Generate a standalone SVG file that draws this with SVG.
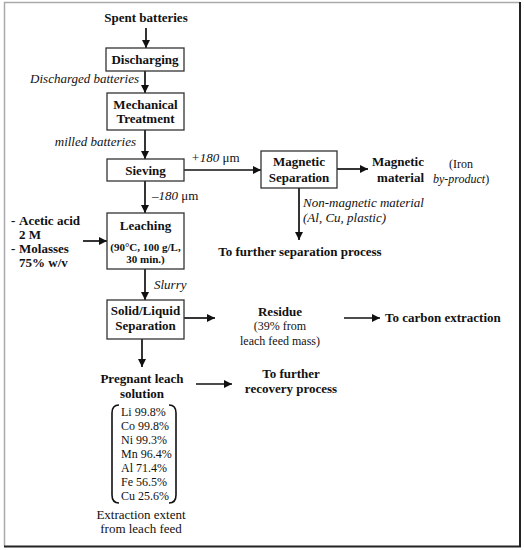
<svg xmlns="http://www.w3.org/2000/svg" width="524" height="550" viewBox="0 0 524 550" font-family="'Liberation Serif', 'Times New Roman', 'DejaVu Serif', serif">
<defs>
<marker id="ah" markerUnits="userSpaceOnUse" markerWidth="10" markerHeight="8" refX="8" refY="4" orient="auto">
<path d="M0,0 L8,4 L0,8 Z" fill="#111"/>
</marker>
<style>
text{fill:#111}
.b{font-weight:bold;font-size:13px}
.i{font-style:italic;font-size:13px}
.n{font-size:12px}
.s{font-weight:bold;font-size:11px}
.m{text-anchor:middle}
.box{fill:#fff;stroke:#333;stroke-width:1.3}
.c{stroke:#111;stroke-width:1.7;fill:none;marker-end:url(#ah)}
.br{stroke:#111;stroke-width:1.6;fill:none}
</style>
</defs>
<rect width="524" height="550" fill="#fff"/>
<path d="M4.5,546 L4.5,2.5 L520,2.5" stroke="#aaa" stroke-width="1.5" fill="none"/>
<path d="M520,2 L520,546.5 L4,546.5" stroke="#222" stroke-width="2" fill="none"/>

<g id="connectors">
<line class="c" x1="146" y1="28" x2="146" y2="48"/>
<line class="c" x1="145" y1="71" x2="145" y2="93"/>
<line class="c" x1="145" y1="130" x2="145" y2="159"/>
<line class="c" x1="184" y1="170" x2="261" y2="170"/>
<line class="c" x1="145" y1="181" x2="145" y2="213"/>
<line class="c" x1="83" y1="241" x2="107" y2="241"/>
<line class="c" x1="299" y1="188" x2="299" y2="240"/>
<line class="c" x1="337" y1="169" x2="368" y2="169"/>
<line class="c" x1="145" y1="269" x2="145" y2="300"/>
<line class="c" x1="184" y1="318" x2="215" y2="318"/>
<line class="c" x1="344" y1="318" x2="380" y2="318"/>
<line class="c" x1="142" y1="339" x2="142" y2="367"/>
<line class="c" x1="196" y1="384" x2="232" y2="384"/>
</g>

<g id="labels">
<text class="i" x="139" y="83" text-anchor="end">Discharged batteries</text>
<text class="i" x="136" y="146" text-anchor="end">milled batteries</text>
<text x="191" y="162" font-size="13"><tspan font-style="italic">+180</tspan> μm</text>
<text x="152" y="200" font-size="13"><tspan font-style="italic">–180</tspan> μm</text>
<text class="i" x="303" y="207">Non-magnetic material</text>
<text class="i" x="303" y="222">(Al, Cu, plastic)</text>
<text class="i" x="154" y="289">Slurry</text>
</g>

<g id="spent"><text class="b m" x="146" y="22">Spent batteries</text></g>

<g id="discharging">
<rect class="box" x="106" y="48" width="78" height="23"/>
<text class="b m" x="145" y="64">Discharging</text>
</g>

<g id="mechanical">
<rect class="box" x="107" y="93" width="77" height="37"/>
<text class="b m" x="145.5" y="109">Mechanical</text>
<text class="b m" x="145.5" y="123">Treatment</text>
</g>

<g id="sieving">
<rect class="box" x="107" y="159" width="77" height="22"/>
<text class="b m" x="145.5" y="175">Sieving</text>
</g>

<g id="reagents">
<text class="b" x="11" y="225">-</text><text class="b" x="19" y="225">Acetic acid</text>
<text class="b" x="19" y="239">2 M</text>
<text class="b" x="11" y="253">-</text><text class="b" x="19" y="253">Molasses</text>
<text class="b" x="19" y="267">75% w/v</text>
</g>

<g id="leaching">
<rect class="box" x="107" y="213" width="77" height="56"/>
<text class="b m" x="145.5" y="230">Leaching</text>
<text class="s m" x="145.5" y="251">(90°C, 100 g/L,</text>
<text class="s m" x="145.5" y="263">30 min.)</text>
</g>

<g id="magsep">
<rect class="box" x="261" y="151" width="76" height="37"/>
<text class="b m" x="299" y="166">Magnetic</text>
<text class="b m" x="299" y="182">Separation</text>
</g>

<g id="magmat">
<text class="b" x="424" y="166" text-anchor="end">Magnetic</text>
<text class="b" x="424" y="182" text-anchor="end">material</text>
<text class="n" x="449" y="168">(Iron</text>
<text class="n" x="433" y="183"><tspan font-style="italic">by-product</tspan>)</text>
</g>

<g id="furthersep"><text class="b m" x="300" y="256">To further separation process</text></g>

<g id="solidliquid">
<rect class="box" x="107" y="300" width="77" height="39"/>
<text class="b m" x="145.5" y="315">Solid/Liquid</text>
<text class="b m" x="145.5" y="330">Separation</text>
</g>

<g id="residue">
<text class="b m" x="280" y="316">Residue</text>
<text class="n m" x="280" y="330">(39% from</text>
<text class="n m" x="280" y="345">leach feed mass)</text>
</g>

<g id="carbon"><text class="b" x="385" y="322">To carbon extraction</text></g>

<g id="pls">
<text class="b m" x="142" y="383">Pregnant leach</text>
<text class="b m" x="142" y="398">solution</text>
</g>

<g id="recovery">
<text class="b m" x="291" y="378">To further</text>
<text class="b m" x="291" y="393">recovery process</text>
</g>

<g id="extraction">
<path class="br" d="M119,405 Q112,405 112,413 L112,495 Q112,503 119,503"/>
<path class="br" d="M169,405 Q176,405 176,413 L176,495 Q176,503 169,503"/>
<text class="n" x="121" y="416">Li 99.8%</text>
<text class="n" x="121" y="430">Co 99.8%</text>
<text class="n" x="121" y="444">Ni 99.3%</text>
<text class="n" x="121" y="458">Mn 96.4%</text>
<text class="n" x="121" y="472">Al 71.4%</text>
<text class="n" x="121" y="486">Fe 56.5%</text>
<text class="n" x="121" y="500">Cu 25.6%</text>
<text class="m" font-size="13" x="141" y="519">Extraction extent</text>
<text class="m" font-size="13" x="141" y="533">from leach feed</text>
</g>
</svg>
